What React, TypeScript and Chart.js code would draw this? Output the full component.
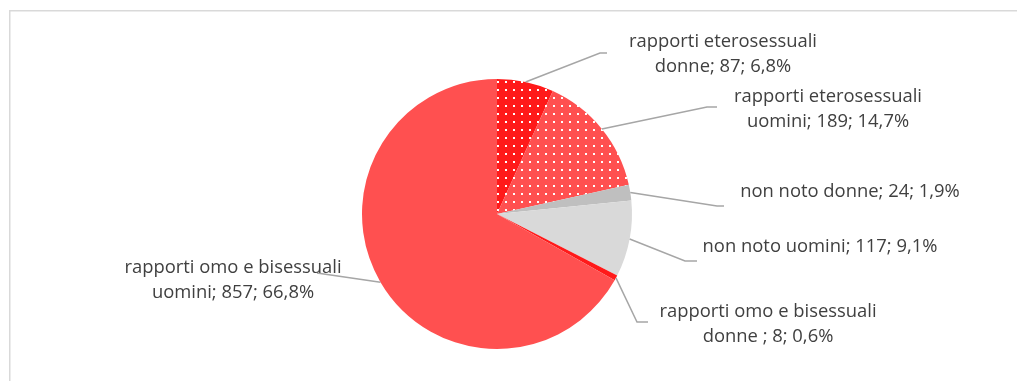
import React, { useEffect, useRef } from "react";
import { Chart, registerables } from "chart.js";

Chart.register(...registerables);

// ---- data ----
const categories = [
  "rapporti eterosessuali donne",
  "rapporti eterosessuali uomini",
  "non noto donne",
  "non noto uomini",
  "rapporti omo e bisessuali donne ",
  "rapporti omo e bisessuali uomini",
];
const values = [87, 189, 24, 117, 8, 857];
// how each category name is wrapped in its label
const labelLines = [
  ["rapporti eterosessuali", "donne"],
  ["rapporti eterosessuali", "uomini"],
  ["non noto donne"],
  ["non noto uomini"],
  ["rapporti omo e bisessuali", "donne "],
  ["rapporti omo e bisessuali", "uomini"],
];

// ---- styles ----
const baseColors = ["#FF1A1A", "#FF5050", "#BFBFBF", "#D9D9D9", "#FF1A1A", "#FF5050"];
const dotted = [true, true, false, false, false, false];

// label layout: text center x, first line y, leader knee & end (relative to pie centre)
const labelLayout = [
  { cx: 226, cy: -172, knee: [103, -161], end: [110, -161] },
  { cx: 331, cy: -117, knee: [210, -107], end: [220, -107] },
  { cx: 353, cy: -22, knee: [220, -8], end: [227, -8] },
  { cx: 323, cy: 33, knee: [188, 47], end: [200, 47] },
  { cx: 271, cy: 98, knee: [140, 108], end: [151, 108] },
  { cx: -264, cy: 54, knee: null, end: [-180, 59] },
];

function makePattern(color: string): CanvasPattern | string {
  const c = document.createElement("canvas");
  c.width = 8;
  c.height = 8;
  const g = c.getContext("2d");
  if (!g) return color;
  g.fillStyle = color;
  g.fillRect(0, 0, 8, 8);
  g.fillStyle = "#FFFFFF";
  g.fillRect(1, 1, 2, 2);
  const p = g.createPattern(c, "repeat");
  return p || color;
}

export default function App() {
  const ref = useRef<HTMLCanvasElement | null>(null);

  useEffect(() => {
    document.body.style.margin = "0";
    const canvas = ref.current;
    if (!canvas) return;
    const total = values.reduce((a, b) => a + b, 0);
    const fills = baseColors.map((c, i) => (dotted[i] ? makePattern(c) : c));

    const overlay = {
      id: "overlay",
      beforeDraw(chart: any) {
        const ctx = chart.ctx;
        ctx.save();
        ctx.fillStyle = "#FFFFFF";
        ctx.fillRect(0, 0, chart.width, chart.height);
        ctx.strokeStyle = "#D9D9D9";
        ctx.lineWidth = 1.5;
        ctx.beginPath();
        ctx.moveTo(9.75, chart.height + 5);
        ctx.lineTo(9.75, 10.75);
        ctx.lineTo(chart.width + 5, 10.75);
        ctx.stroke();
        ctx.restore();
      },
      afterDraw(chart: any) {
        const ctx = chart.ctx;
        const meta = chart.getDatasetMeta(0);
        ctx.save();
        meta.data.forEach((arc: any, i: number) => {
          const p = arc.getProps(["x", "y", "startAngle", "endAngle", "outerRadius"], true);
          const mid = (p.startAngle + p.endAngle) / 2;
          const sx = p.x + Math.cos(mid) * p.outerRadius;
          const sy = p.y + Math.sin(mid) * p.outerRadius;
          const L = labelLayout[i];
          ctx.strokeStyle = "#A6A6A6";
          ctx.lineWidth = 1.5;
          ctx.beginPath();
          ctx.moveTo(sx, sy);
          if (L.knee) ctx.lineTo(p.x + L.knee[0], p.y + L.knee[1]);
          ctx.lineTo(p.x + L.end[0], p.y + L.end[1]);
          ctx.stroke();

          const pct = ((values[i] / total) * 100).toFixed(1).replace(".", ",");
          const lines = labelLines[i].slice();
          lines[lines.length - 1] = lines[lines.length - 1] + "; " + values[i] + "; " + pct + "%";
          ctx.fillStyle = "#404040";
          ctx.font = "18.4px 'Open Sans'";
          ctx.textAlign = "center";
          ctx.textBaseline = "middle";
          lines.forEach((t: string, j: number) => {
            ctx.fillText(t, p.x + L.cx, p.y + L.cy + j * 25);
          });
        });
        ctx.restore();
      },
    };

    const chart = new Chart(canvas, {
      type: "pie",
      data: {
        labels: categories,
        datasets: [
          {
            data: values,
            backgroundColor: fills as any,
            borderWidth: 0,
            hoverBorderWidth: 0,
            hoverOffset: 0,
            offset: 0,
          },
        ],
      },
      options: {
        responsive: false,
        animation: false,
        devicePixelRatio: 1,
        events: [],
        layout: { padding: { left: 362, right: 385, top: 79, bottom: 32 } },
        plugins: {
          legend: { display: false },
          tooltip: { enabled: false },
        },
      },
      plugins: [overlay],
    });
    return () => chart.destroy();
  }, []);

  return (
    <div style={{ width: 1017, height: 381 }}>
      <canvas ref={ref} width={1017} height={381} style={{ display: "block", width: 1017, height: 381 }} />
    </div>
  );
}
